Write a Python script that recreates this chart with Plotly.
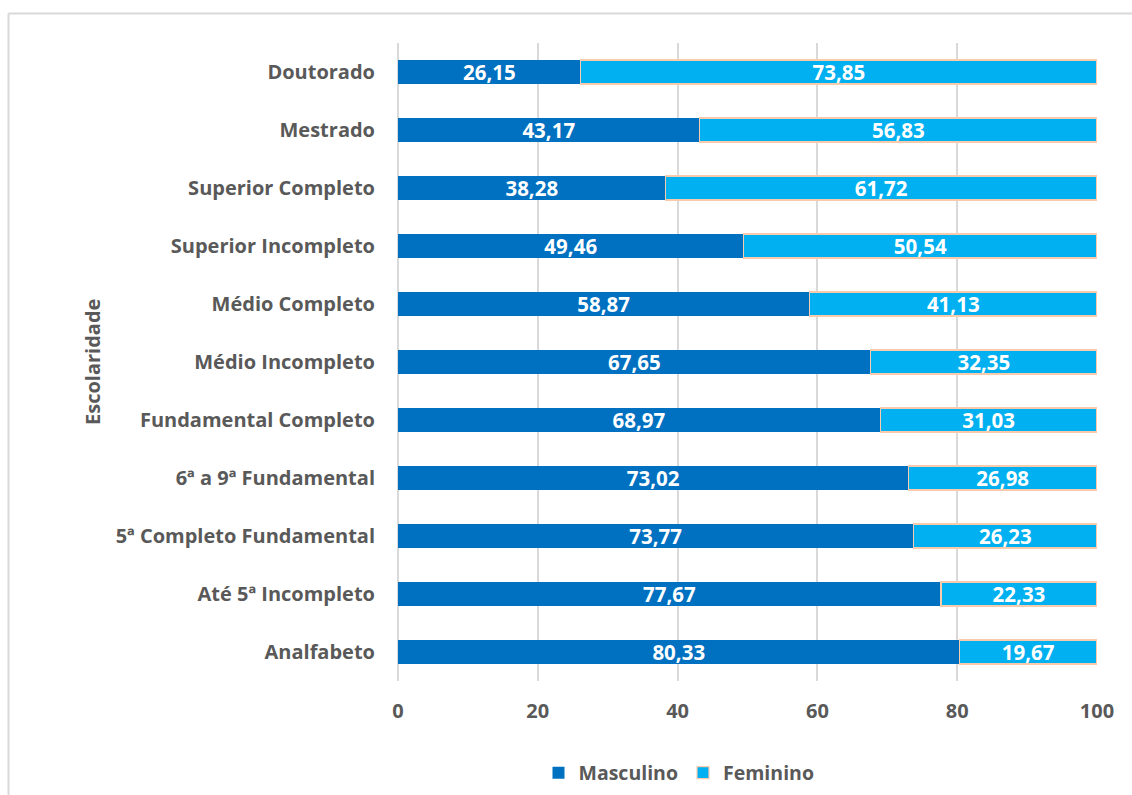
import plotly.graph_objects as go

categorias = ["Analfabeto", "Até 5ª Incompleto", "5ª Completo Fundamental", "6ª a 9ª Fundamental",
              "Fundamental Completo", "Médio Incompleto", "Médio Completo", "Superior Incompleto",
              "Superior Completo", "Mestrado", "Doutorado"]
masculino = [80.33, 77.67, 73.77, 73.02, 68.97, 67.65, 58.87, 49.46, 38.28, 43.17, 26.15]
feminino = [19.67, 22.33, 26.23, 26.98, 31.03, 32.35, 41.13, 50.54, 61.72, 56.83, 73.85]
x_ticks = [0, 20, 40, 60, 80, 100]

FONT = "Open Sans"
GRAY = "#595959"

fig = go.Figure()
fig.add_trace(go.Bar(
    y=categorias, x=masculino, name="Masculino", orientation="h",
    marker=dict(color="#0070C0", line=dict(width=0)),
    texttemplate="%{x:.2f}", textposition="inside", insidetextanchor="middle", constraintext="none",
    textfont=dict(family=FONT, size=20.5, color="white", weight="bold"),
))
fig.add_trace(go.Bar(
    y=categorias, x=feminino, name="Feminino", orientation="h",
    marker=dict(color="#00B0F0", line=dict(width=1.2, color="#F8CBAD")),
    texttemplate="%{x:.2f}", textposition="inside", insidetextanchor="middle", constraintext="none",
    textfont=dict(family=FONT, size=20.5, color="white", weight="bold"),
))

W, H = 1132, 795
L, R, T, B = 398, 35, 43, 114
pw, ph = W - L - R, H - T - B

def px(xp):
    return (xp - L) / pw

def py(yp):
    return (H - B - yp) / ph

fig.update_layout(
    width=W, height=H, barmode="stack", bargap=0.586,
    margin=dict(l=L, r=R, t=T, b=B, autoexpand=False),
    paper_bgcolor="white", plot_bgcolor="white",
    separators=",.",
    uniformtext=dict(mode=False),
    font=dict(family=FONT, color=GRAY),
    xaxis=dict(range=[0, 100], tickvals=x_ticks, showgrid=True, gridcolor="#D9D9D9", gridwidth=2,
               zeroline=True, zerolinecolor="#D9D9D9", zerolinewidth=2, showline=False,
               tickfont=dict(family=FONT, size=20, color=GRAY, weight="bold"),
               ticklabelstandoff=16, fixedrange=True),
    yaxis=dict(categoryorder="array", categoryarray=categorias, showgrid=False,
               tickfont=dict(family=FONT, size=20, color=GRAY, weight="bold"),
               ticklabelstandoff=22, showline=False, ticks=""),
    legend=dict(orientation="h", x=px(679), xanchor="center", y=py(773), yanchor="middle",
                font=dict(family=FONT, size=19.5, color=GRAY, weight="bold"),
                itemwidth=30, traceorder="normal"),
    annotations=[dict(text="<b>Escolaridade</b>", x=px(92), y=py(362), xref="paper", yref="paper",
                      textangle=-90, showarrow=False, font=dict(family=FONT, size=20, color=GRAY),
                      xanchor="center", yanchor="middle")],
    shapes=[
        dict(type="line", xref="paper", yref="paper", x0=px(8.5), x1=px(8.5), y0=py(13.5), y1=py(800),
             line=dict(color="#D9D9D9", width=2)),
        dict(type="line", xref="paper", yref="paper", x0=px(8.5), x1=px(1140), y0=py(13.5), y1=py(13.5),
             line=dict(color="#D9D9D9", width=2)),
    ],
)

fig.write_html("out.html")
